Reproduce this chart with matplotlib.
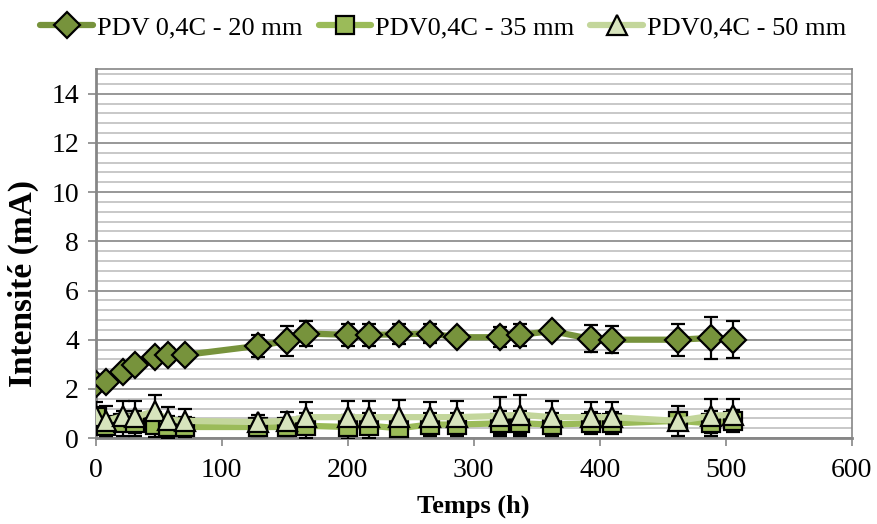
import numpy as np
import matplotlib
matplotlib.use('Agg')
import matplotlib.pyplot as plt
from matplotlib.ticker import MultipleLocator

# temps (h)
temps = [0, 8, 22, 31, 47, 57, 71, 129, 152, 167, 200, 217, 241, 265, 287,
         321, 337, 362, 393, 410, 462, 488, 506]

# PDV 0,4C - 20 mm
i20 = [2.2, 2.28, 2.7, 2.97, 3.3, 3.38, 3.38, 3.75, 3.95, 4.25, 4.2, 4.2,
       4.22, 4.25, 4.1, 4.1, 4.2, 4.35, 4.03, 4.0, 4.0, 4.07, 4.0]
e20 = [0.1, 0.1, 0.15, 0.15, 0.2, 0.3, 0.25, 0.45, 0.6, 0.5, 0.45, 0.45,
       0.4, 0.4, 0.15, 0.4, 0.45, 0.15, 0.55, 0.55, 0.65, 0.85, 0.75]

# PDV0,4C - 35 mm
i35 = [0.85, 0.5, 0.6, 0.6, 0.55, 0.45, 0.45, 0.45, 0.45, 0.5, 0.45, 0.5,
       0.4, 0.55, 0.55, 0.6, 0.6, 0.55, 0.6, 0.6, 0.7, 0.6, 0.7]
e35 = [0.4, 0.4, 0.5, 0.5, 0.5, 0.45, 0.4, 0.35, 0.35, 0.5, 0.5, 0.5,
       0.5, 0.45, 0.45, 0.5, 0.5, 0.45, 0.45, 0.45, 0.35, 0.5, 0.45]

# PDV0,4C - 50 mm
i50 = [0.9, 0.7, 0.9, 0.85, 1.1, 0.75, 0.7, 0.65, 0.7, 0.85, 0.85, 0.85,
       0.85, 0.85, 0.85, 0.9, 0.95, 0.85, 0.85, 0.85, 0.7, 0.9, 0.95]
e50 = [0.55, 0.6, 0.6, 0.65, 0.65, 0.5, 0.5, 0.3, 0.35, 0.6, 0.65, 0.65,
       0.7, 0.6, 0.65, 0.75, 0.8, 0.65, 0.6, 0.6, 0.6, 0.7, 0.65]

plt.rcParams['font.family'] = ['Liberation Serif', 'DejaVu Serif']

fig = plt.figure(figsize=(8.78, 5.24), dpi=100)
ax = fig.add_axes([0.109, 0.164, 0.861, 0.704])

series = [
    (i20, e20, 'PDV 0,4C - 20 mm', '#77933C', '#77933C', 'D', 13),
    (i35, e35, 'PDV0,4C - 35 mm', '#9BBB59', '#9BBB59', 's', 13.5),
    (i50, e50, 'PDV0,4C - 50 mm', '#C3D69B', '#D7E4BD', '^', 15),
]

handles = []
for vals, errs, label, lcol, mcol, mk, ms in series:
    ax.errorbar(temps, vals, yerr=errs, fmt='none', ecolor='black',
                elinewidth=1.6, capsize=5, capthick=1.6, zorder=3)
    h, = ax.plot(temps, vals, color=lcol, lw=4.5, marker=mk, ms=ms,
                 markerfacecolor=mcol, markeredgecolor='black',
                 markeredgewidth=1.6, label=label, zorder=4,
                 solid_capstyle='round')
    handles.append(h)

ax.set_xlim(0, 600)
ax.set_ylim(0, 15)
ax.xaxis.set_major_locator(MultipleLocator(100))
ax.yaxis.set_major_locator(MultipleLocator(2))
ax.yaxis.set_minor_locator(MultipleLocator(0.4))

ax.grid(which='major', axis='y', color='#868686', lw=1.2, zorder=0)
ax.grid(which='minor', axis='y', color='#BFBFBF', lw=1.2, zorder=0)
ax.set_axisbelow(True)

for side in ['left', 'bottom', 'right', 'top']:
    ax.spines[side].set_color('#868686')
    ax.spines[side].set_linewidth(1.2)
ax.spines['left'].set_linewidth(2)
ax.spines['bottom'].set_linewidth(2)

ax.tick_params(axis='both', which='major', direction='out', length=6,
               width=1.2, color='#868686', labelsize=20)
ax.tick_params(axis='x', which='major', pad=8)
ax.tick_params(axis='y', which='major', pad=6)
ax.tick_params(axis='y', which='minor', length=0)

ax.set_xlabel('Temps (h)', fontsize=19, fontweight='bold', labelpad=9)
ax.set_ylabel('Intensité (mA)', fontsize=24, fontweight='bold')
ax.yaxis.set_label_coords(-0.075, 0.42)

fig.legend(handles=handles, loc='upper center', bbox_to_anchor=(0.505, 1.015),
           ncol=3, frameon=False, fontsize=19, handlelength=2.0,
           handletextpad=0.15, columnspacing=0.6)

fig.savefig('out.png', dpi=100)
